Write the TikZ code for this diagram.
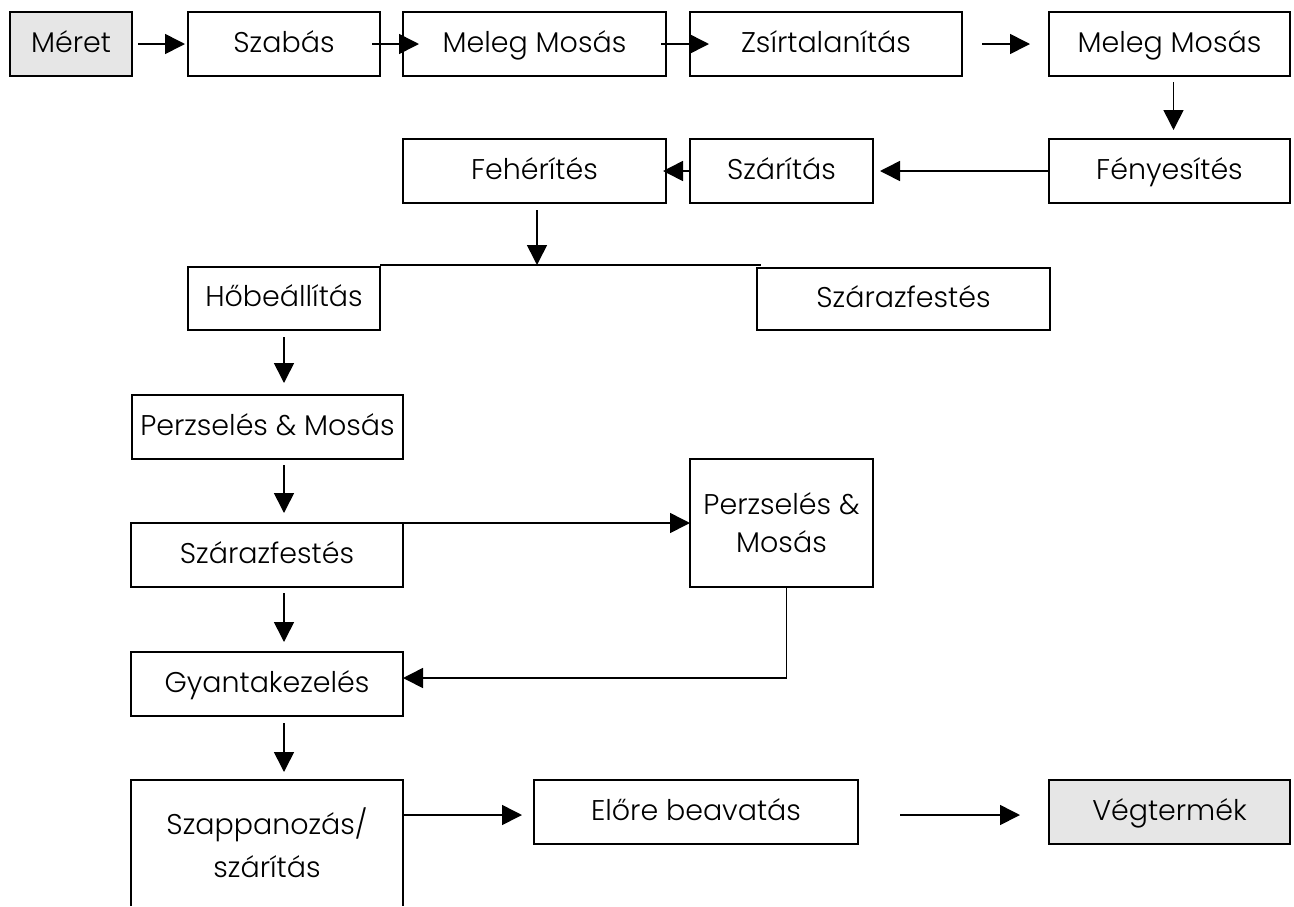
\documentclass[tikz,border=0pt]{standalone}
\usepackage{fontspec}
\setmainfont{Poppins}[UprightFont=* Light]
\usetikzlibrary{arrows.meta}
\definecolor{boxgray}{HTML}{E6E6E6}
\begin{document}
\begin{tikzpicture}[x=1pt,y=-1pt,
  box/.style={draw, line width=2.4pt, inner sep=0pt, outer sep=0pt, align=center,
    font=\fontsize{28.5}{38}\selectfont},
  onebox/.style={box, text height=20pt, text depth=4pt},
  endbox/.style={onebox, fill=boxgray},
  flow/.style={line width=1.6pt, -{Triangle[length=20pt,width=20pt]}},
  plain/.style={line width=1.6pt}]
\useasboundingbox (0,0) rectangle (1294,906);

% first row
\node[endbox, minimum width=122pt, minimum height=64pt] (meret)  at (71,44)     {Méret};
\node[onebox, minimum width=192pt, minimum height=64pt] (szabas) at (284,44)    {Szabás};
\node[onebox, minimum width=263pt, minimum height=64pt] (meleg1) at (534.5,44)  {Meleg Mosás};
\node[onebox, minimum width=272pt, minimum height=64pt] (zsir)   at (826,44)    {Zsírtalanítás};
\node[onebox, minimum width=241pt, minimum height=64pt] (meleg2) at (1169.5,44) {Meleg Mosás};

% second row
\node[onebox, minimum width=241pt, minimum height=64pt] (fenyes)   at (1169.5,171) {Fényesítés};
\node[onebox, minimum width=183pt, minimum height=64pt] (szaritas) at (781.5,171)  {Szárítás};
\node[onebox, minimum width=263pt, minimum height=64pt] (feher)    at (534.5,171)  {Fehérítés};

% branch below the bleaching step
\node[onebox, minimum width=192pt, minimum height=63pt] (hobe)    at (284,298.5) {Hőbeállítás};
\node[onebox, minimum width=293pt, minimum height=62pt] (szarazR) at (903.5,299) {Szárazfestés};
\coordinate (busL)  at (380,265);
\coordinate (busR)  at (761,265);
\coordinate (split) at (537,265);

% left column and side step
\node[onebox, minimum width=271pt, minimum height=64pt] (perzsL)  at (267.5,427) {Perzselés \& Mosás};
\node[onebox, minimum width=272pt, minimum height=64pt] (szarazL) at (267,555)   {Szárazfestés};
\node[box, minimum width=183pt, minimum height=128pt]   (perzsR)  at (781.5,523) {Perzselés \&\\Mosás};
\node[onebox, minimum width=272pt, minimum height=64pt] (gyanta)  at (267,684)   {Gyantakezelés};
\node[box, draw=none, minimum width=272pt, minimum height=126pt, anchor=north,
      font=\fontsize{28.5}{43}\selectfont] (szapp) at (267,780) {Szappanozás/\\szárítás};
\draw[line width=2.4pt] (szapp.south west) -- (szapp.north west) -- (szapp.north east) -- (szapp.south east);

% last row
\node[onebox, minimum width=324pt, minimum height=64pt] (elore) at (696,812)    {Előre beavatás};
\node[endbox, minimum width=241pt, minimum height=64pt] (veg)   at (1169.5,812) {Végtermék};

% connectors, first row
\draw[flow] ([xshift=6pt]meret.east)   -- ([xshift=-3pt]szabas.west);
\draw[flow] ([xshift=-8pt]szabas.east) -- ([xshift=16pt]meleg1.west);
\draw[flow] ([xshift=-5pt]meleg1.east) -- ([xshift=19pt]zsir.west);
\draw[flow] ([xshift=20pt]zsir.east)   -- ([xshift=-19pt]meleg2.west);
\draw[flow] ([xshift=4pt,yshift=-6pt]meleg2.south) -- ([xshift=4pt,yshift=9pt]fenyes.north);

% connectors, second row
\draw[flow] (fenyes.west)   -- ([xshift=7pt]szaritas.east);
\draw[flow] (szaritas.west) -- ([xshift=-3pt]feher.east);
\draw[flow] ([xshift=2.5pt,yshift=-7pt]feher.south) -- (split);
\draw[plain] (busL) -- (busR);

% connectors, left column
\draw[flow] ([yshift=-7pt]hobe.south) -- ([yshift=12pt]perzsL.north -| hobe.south);
\draw[flow] ([yshift=-6pt]perzsL.south -| hobe.south) -- ([yshift=10pt]szarazL.north -| hobe.south);
\draw[flow] (szarazL.north east) -- (perzsR.west);
\draw[flow] ([xshift=5pt]perzsR.south) |- ([yshift=6pt]gyanta.east);
\draw[flow] ([yshift=-6pt]szarazL.south -| hobe.south) -- ([yshift=10pt]gyanta.north -| hobe.south);
\draw[flow] ([yshift=-7pt]gyanta.south -| hobe.south) -- ([yshift=8pt]szapp.north -| hobe.south);

% connectors, last row
\draw[flow] (szapp.north east |- 0,815) -- ([xshift=-12pt,yshift=-3pt]elore.west);
\draw[flow] ([xshift=42pt,yshift=-3pt]elore.east) -- ([xshift=-29pt,yshift=-3pt]veg.west);
\end{tikzpicture}
\end{document}
